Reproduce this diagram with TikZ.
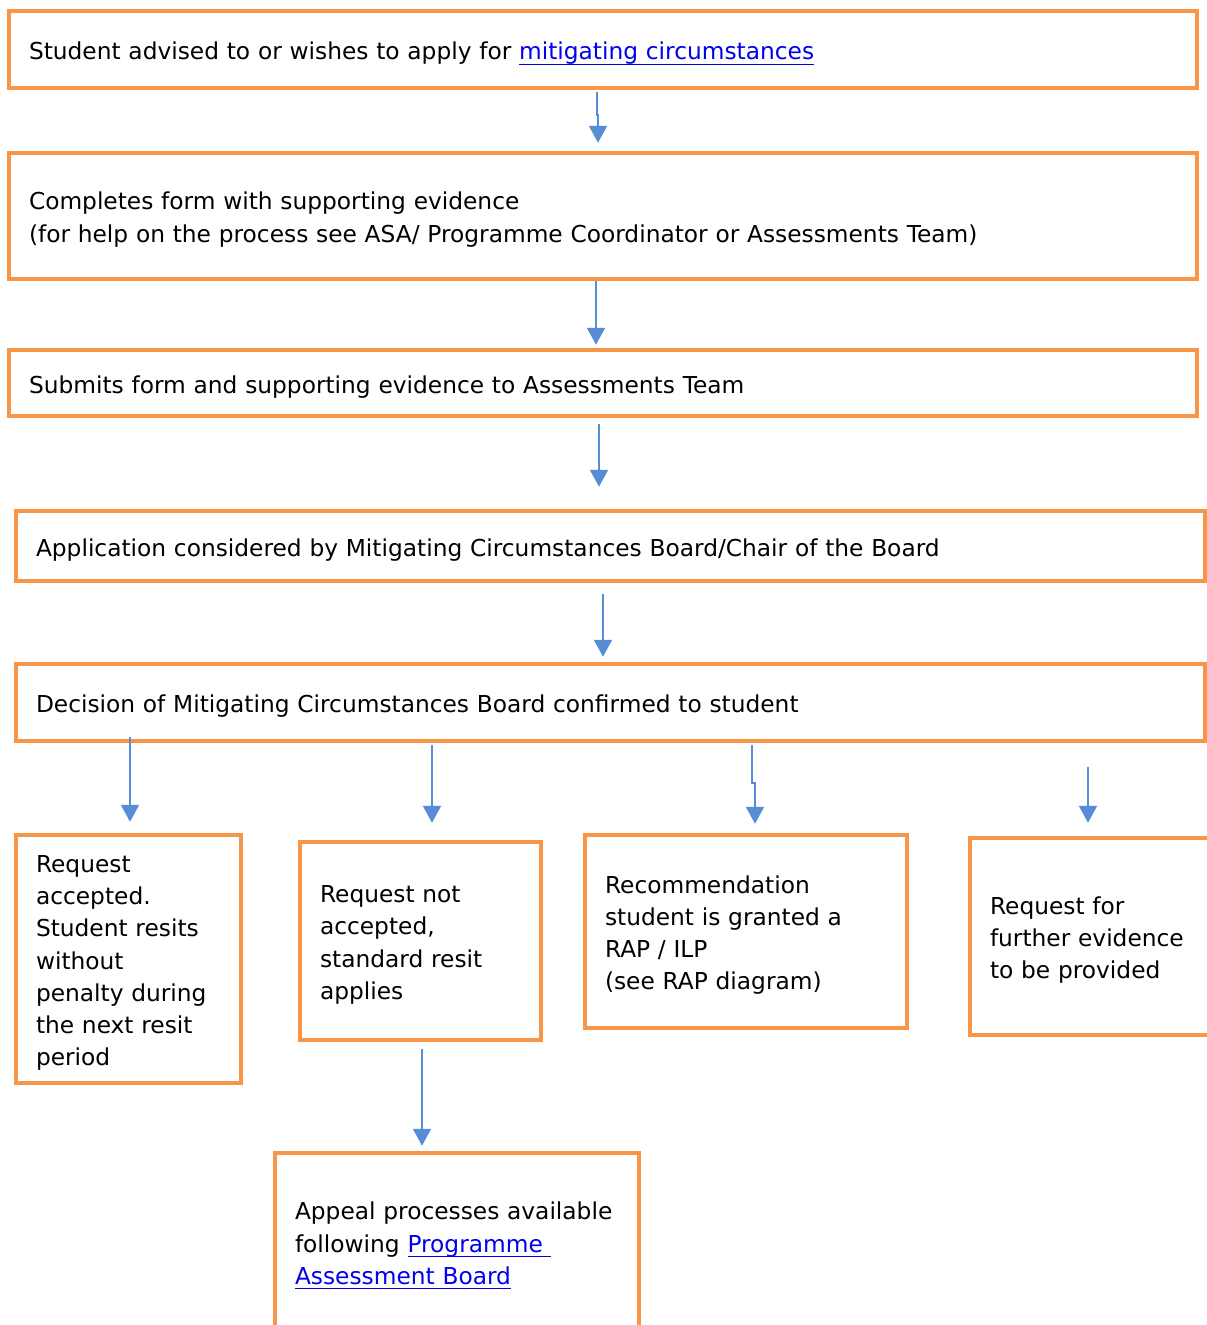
\documentclass[tikz,border=0pt]{standalone}
\usepackage{fontspec}
\setmainfont{DejaVu Sans}
\usetikzlibrary{arrows.meta}
\definecolor{boxorange}{RGB}{247,150,70}
\definecolor{arrowblue}{RGB}{85,142,213}
\definecolor{linkblue}{RGB}{0,0,238}
\newcommand{\lnk}[1]{{\color{linkblue}\underline{\smash{#1}\rule[-3pt]{0pt}{1pt}}}}
\begin{document}
\begin{tikzpicture}[x=1pt,y=-1pt,
    box/.style={draw=boxorange,line width=4.5pt,rectangle,align=left,
        inner xsep=20pt,inner ysep=0pt,font=\fontsize{23.3}{32.2}\selectfont,
        execute at begin node={\rule{0pt}{25pt}}},
    flow/.style={draw=arrowblue,line width=2pt,-{Triangle[width=18pt,length=17pt]}}]
    \useasboundingbox(0,0)rectangle(1207,1325);
    \clip(0,0)rectangle(1207,1325);
    \fill[white](0,0)rectangle(1207,1325);

    %riquadri principali
    \node[box,minimum width=1188pt,minimum height=77pt,text width=1148pt](b1)at(603,49.5)
        {Student advised to or wishes to apply for \lnk{mitigating circumstances}};
    \node[box,minimum width=1188pt,minimum height=126pt,text width=1148pt](b2)at(603,216)
        {Completes form with supporting evidence\\(for help on the process see ASA/ Programme Coordinator or Assessments Team)};
    \node[box,minimum width=1188pt,minimum height=66pt,text width=1148pt](b3)at(603,383)
        {Submits form and supporting evidence to Assessments Team};
    \node[box,minimum width=1189pt,minimum height=70pt,text width=1149pt](b4)at(610.5,546)
        {Application considered by Mitigating Circumstances Board/Chair of the Board};
    \node[box,minimum width=1189pt,minimum height=77pt,text width=1149pt](b5)at(610.5,702.5)
        {Decision of Mitigating Circumstances Board confirmed to student};

    %esiti
    \node[box,minimum width=225pt,minimum height=248pt,text width=185pt](accepted)at(128.5,959)
        {Request\\accepted.\\Student resits\\without\\penalty during\\the next resit\\period};
    \node[box,minimum width=241pt,minimum height=198pt,text width=201pt](refused)at(420.5,941)
        {Request not\\accepted,\\standard resit\\applies};
    \node[box,minimum width=322pt,minimum height=193pt,text width=282pt](rap)at(746,931.5)
        {Recommendation\\student is granted a\\RAP / ILP\\(see RAP diagram)};
    \node[box,minimum width=245pt,minimum height=197pt,text width=205pt](further)at(1092.5,936.5)
        {Request for\\further evidence\\to be provided};
    %appello (tagliato in basso)
    \node[box,minimum width=364pt,minimum height=178pt,text width=324pt](appeal)at(457,1242)
        {Appeal processes available\\following \lnk{Programme }\\\lnk{Assessment Board}};

    %frecce
    \draw[flow,shorten <=2pt,shorten >=8pt]([xshift=-6pt]b1.south)|-([xshift=-5pt,yshift=36pt]b2.north)--([xshift=-5pt]b2.north);
    \draw[flow,shorten >=3pt]([xshift=-7pt]b2.south)--([xshift=-7pt]b3.north);
    \draw[flow,shorten <=6pt,shorten >=22pt]([xshift=-11.5pt]b4.north|-b3.south)--([xshift=-11.5pt]b4.north);
    \draw[flow,shorten <=11pt,shorten >=5pt]([xshift=-7.5pt]b4.south)--([xshift=-7.5pt]b5.north);
    \draw[flow,shorten <=-6pt,shorten >=11pt]([xshift=1.5pt]accepted.north|-b5.south)--([xshift=1.5pt]accepted.north);
    \draw[flow,shorten <=2pt,shorten >=17pt]([xshift=11.5pt]refused.north|-b5.south)--([xshift=11.5pt]refused.north);
    \draw[flow,shorten <=2pt,shorten >=9pt]([xshift=6pt]rap.north|-b5.south)|-([xshift=9pt,yshift=50pt]rap.north)--([xshift=9pt]rap.north);
    \draw[flow,shorten <=24pt,shorten >=13pt]([xshift=-4.5pt]further.north|-b5.south)--([xshift=-4.5pt]further.north);
    \draw[flow,shorten <=7pt,shorten >=5pt]([xshift=1.5pt]refused.south)--([xshift=-35pt]appeal.north);
\end{tikzpicture}
\end{document}
